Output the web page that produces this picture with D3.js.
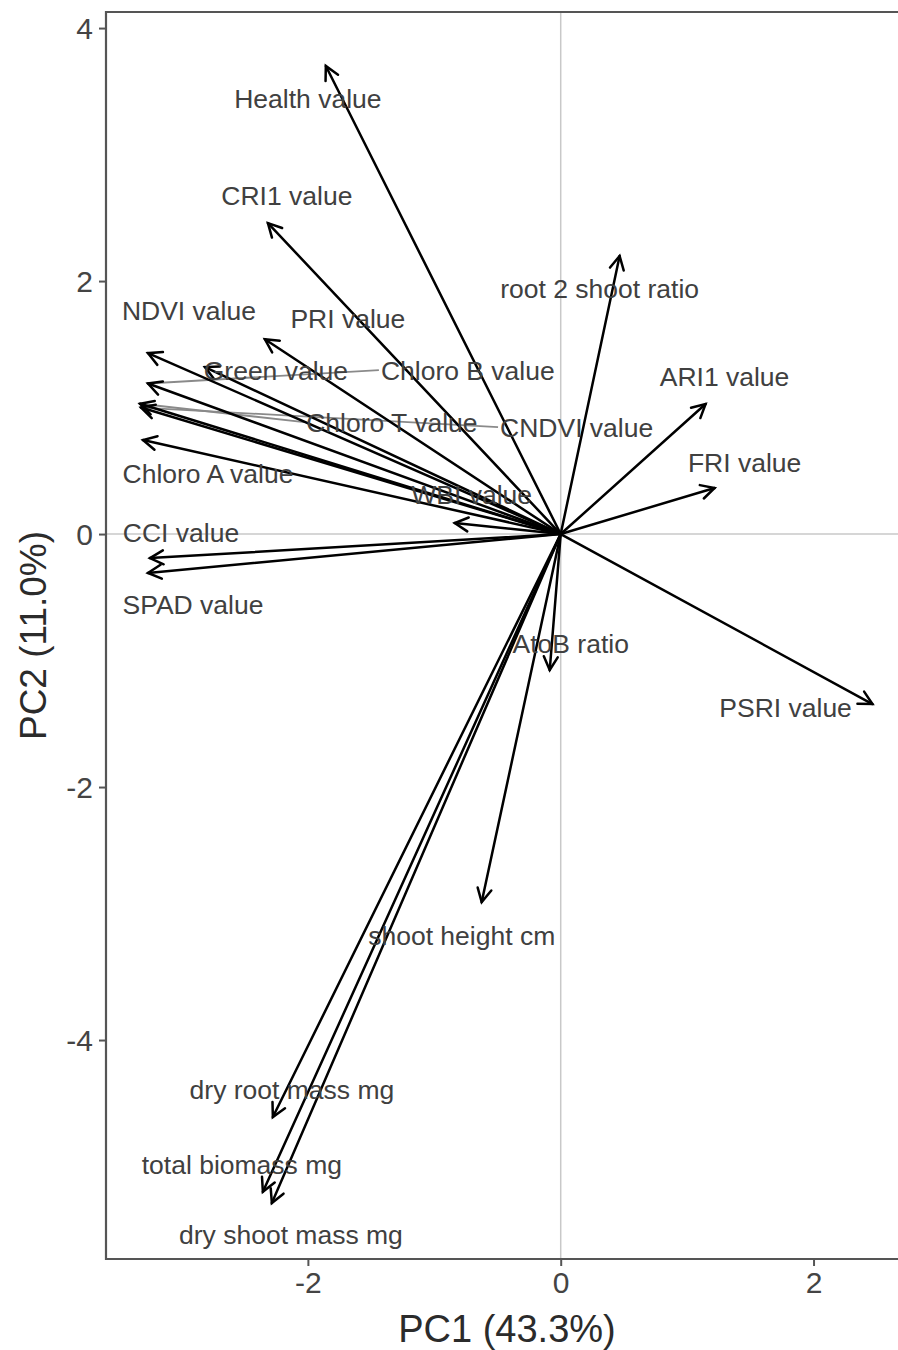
<!DOCTYPE html>
<html>
<head>
<meta charset="utf-8">
<script src="https://cdn.jsdelivr.net/npm/d3@7"></script>
<style>
  html, body { margin: 0; padding: 0; background: #fff; }
  svg { display: block; }
</style>
</head>
<body>
<svg id="chart" width="898" height="1350"></svg>
<script>
// ---- Data (PCA loadings) ----
const variables = [
  "Health value", "CRI1 value", "PRI value", "NDVI value", "Green value",
  "Chloro B value", "Chloro T value", "CNDVI value", "Chloro A value", "WBI value",
  "CCI value", "SPAD value", "root 2 shoot ratio", "ARI1 value", "FRI value",
  "PSRI value", "AtoB ratio", "shoot height cm", "dry root mass mg",
  "total biomass mg", "dry shoot mass mg"
];
const pc1 = [-1.858, -2.316, -2.34, -3.265, -2.814, -3.265, -3.328, -3.32, -3.304, -0.838,
             -3.249, -3.265, 0.466, 1.146, 1.217, 2.466, -0.087, -0.625, -2.277, -2.356, -2.285];
const pc2 = [3.70, 2.458, 1.54, 1.43, 1.32, 1.19, 1.03, 1.00, 0.743, 0.087,
             -0.19, -0.308, 2.198, 1.028, 0.364, -1.344, -1.075, -2.909, -4.609, -5.20, -5.289];
// repelled label positions (data units)
const labelX = [-2.0, -2.166, -1.684, -2.941, -2.253, -0.735, -1.336, 0.126, -2.79, -0.704,
                -3.004, -2.909, 0.308, 1.296, 1.455, 1.779, 0.079, -0.783, -2.126, -2.522, -2.134];
const labelY = [3.447, 2.68, 1.708, 1.771, 1.296, 1.296, 0.885, 0.846, 0.482, 0.316,
                0.016, -0.553, 1.945, 1.249, 0.569, -1.368, -0.862, -3.17, -4.387, -4.98, -5.534];
// labels joined to their arrow by a repel segment
const segmentLabels = ["Chloro B value", "Chloro T value", "CNDVI value"];
const xTicks = [-2, 0, 2];
const yTicks = [4, 2, 0, -2, -4];
const xTitle = "PC1 (43.3%)";
const yTitle = "PC2 (11.0%)";

// ---- Layout ----
const svg = d3.select("#chart");
const panel = { left: 106, top: 12, right: 900, bottom: 1259 };
const x = d3.scaleLinear().domain([-3.597, 2.684]).range([panel.left, panel.right]);
const y = d3.scaleLinear().domain([4.127, -5.731]).range([panel.top, panel.bottom]);
const font = "'Liberation Sans', Arial, sans-serif";

// reference lines
svg.append("line")
  .attr("x1", x(0)).attr("x2", x(0)).attr("y1", panel.top).attr("y2", panel.bottom)
  .attr("stroke", "#c8c8c8").attr("stroke-width", 1.5);
svg.append("line")
  .attr("x1", panel.left).attr("x2", panel.right).attr("y1", y(0)).attr("y2", y(0))
  .attr("stroke", "#c8c8c8").attr("stroke-width", 1.5);

const data = variables.map((v, i) => ({ name: v, x: pc1[i], y: pc2[i], lx: labelX[i], ly: labelY[i] }));

const segG = svg.append("g");
const arrowG = svg.append("g");
const labelG = svg.append("g");

// labels
const texts = labelG.selectAll("text").data(data).enter().append("text")
  .attr("x", d => x(d.lx)).attr("y", d => y(d.ly))
  .attr("dy", "0.36em")
  .attr("text-anchor", "middle")
  .attr("font-family", font)
  .attr("font-size", 26.5)
  .attr("fill", "#404040")
  .text(d => d.name);

// repel segments
texts.each(function(d) {
  if (segmentLabels.indexOf(d.name) < 0) return;
  const w = this.getComputedTextLength();
  segG.append("line")
    .attr("x1", x(d.x)).attr("y1", y(d.y))
    .attr("x2", x(d.lx) - w / 2 - 2).attr("y2", y(d.ly))
    .attr("stroke", "#8a8a8a").attr("stroke-width", 1.8);
});

// arrows
const headLen = 15, headAng = Math.PI / 6.5;
data.forEach(d => {
  const x0 = x(0), y0 = y(0), x1 = x(d.x), y1 = y(d.y);
  arrowG.append("line")
    .attr("x1", x0).attr("y1", y0).attr("x2", x1).attr("y2", y1)
    .attr("stroke", "#000").attr("stroke-width", 2.5).attr("stroke-linecap", "round");
  const a = Math.atan2(y1 - y0, x1 - x0);
  const p1 = [x1 - headLen * Math.cos(a - headAng), y1 - headLen * Math.sin(a - headAng)];
  const p2 = [x1 - headLen * Math.cos(a + headAng), y1 - headLen * Math.sin(a + headAng)];
  arrowG.append("path")
    .attr("d", `M${p1[0]},${p1[1]}L${x1},${y1}L${p2[0]},${p2[1]}`)
    .attr("fill", "none").attr("stroke", "#000").attr("stroke-width", 2.5)
    .attr("stroke-linecap", "round").attr("stroke-linejoin", "miter");
});

// panel border (left, bottom, top; right lies beyond the image)
const borderColor = "#555";
svg.append("path")
  .attr("d", `M${panel.right},${panel.top}L${panel.left},${panel.top}L${panel.left},${panel.bottom}L${panel.right},${panel.bottom}`)
  .attr("fill", "none").attr("stroke", borderColor).attr("stroke-width", 2.2);

// axes
const fmt = d => String(d);
const xAxis = svg.append("g").attr("transform", `translate(0,${panel.bottom})`)
  .call(d3.axisBottom(x).tickValues(xTicks).tickFormat(fmt).tickSize(7).tickPadding(6));
const yAxis = svg.append("g").attr("transform", `translate(${panel.left},0)`)
  .call(d3.axisLeft(y).tickValues(yTicks).tickFormat(fmt).tickSize(7).tickPadding(6));
[xAxis, yAxis].forEach(g => {
  g.select(".domain").remove();
  g.selectAll(".tick line").attr("stroke", borderColor).attr("stroke-width", 2);
  g.selectAll(".tick text")
    .attr("font-family", font)
    .attr("font-size", 30).attr("fill", "#444");
});
yAxis.selectAll(".tick text").attr("dy", "0.36em");

// axis titles
svg.append("text")
  .attr("x", 507).attr("y", 1342)
  .attr("text-anchor", "middle")
  .attr("font-family", font)
  .attr("font-size", 38).attr("fill", "#2b2b2b")
  .text(xTitle);
svg.append("text")
  .attr("transform", `translate(46,${(panel.top + panel.bottom) / 2}) rotate(-90)`)
  .attr("text-anchor", "middle")
  .attr("font-family", font)
  .attr("font-size", 37).attr("fill", "#2b2b2b")
  .text(yTitle);
</script>
</body>
</html>
